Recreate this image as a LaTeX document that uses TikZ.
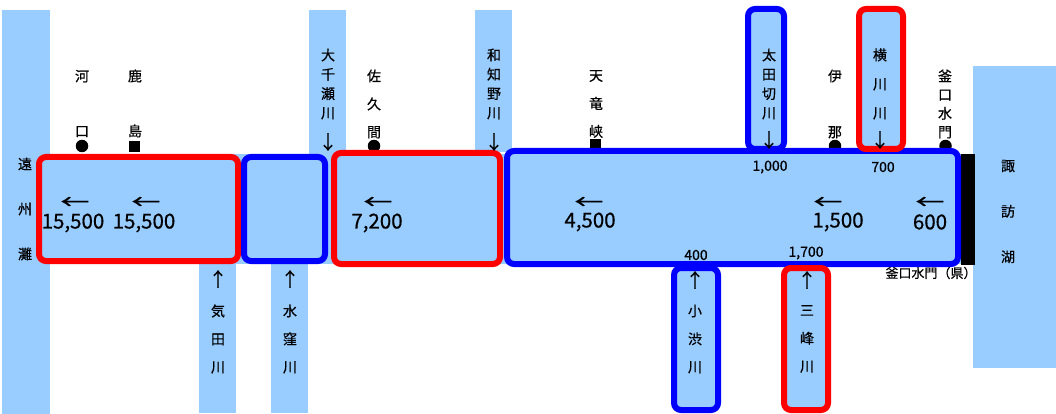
\documentclass[tikz,border=0pt]{standalone}
\usepackage{fontspec}
\setmainfont{Noto Sans CJK JP}[FakeBold=0.6]
\definecolor{lb}{RGB}{153,204,255}
\begin{document}
\begin{tikzpicture}[x=1pt,y=-1pt,
  bluebox/.style={draw=blue, line width=6pt, rounded corners=7pt, fill=lb},
  redbox/.style={draw=red, line width=6pt, rounded corners=7pt, fill=lb},
  lab/.style={inner sep=0pt, align=center, font=\fontsize{14}{#1}\selectfont},
  big/.style={inner sep=0pt, font=\fontsize{20.5}{20.5}\selectfont},
  small/.style={inner sep=0pt, font=\fontsize{14}{14}\selectfont},
  arr/.style={inner sep=0pt, font=\fontsize{20}{20}\selectfont},
  varr/.style={inner sep=0pt, font=\fontsize{19}{19}\selectfont},
  dot/.style={circle, fill=black, inner sep=0pt, minimum size=12.5pt},
  sq/.style={rectangle, fill=black, inner sep=0pt, minimum size=11pt}]
\useasboundingbox (0,0) rectangle (1056,414);

% water areas
\fill[lb] (2,10) rectangle (50,414);
\fill[lb] (973,66) rectangle (1056,368);
\fill[lb] (309,10) rectangle (346,156);
\fill[lb] (475,10) rectangle (512,152);
\fill[lb] (199,262) rectangle (236,413);
\fill[lb] (271,262) rectangle (308,413);
\fill[lb] (36,154) rectangle (961,264);
\fill[black] (961,154) rectangle (975,265);

% station markers
\node[dot] (m1) at (82,146) {};
\node[sq]  (m2) at (134.5,147) {};
\node[dot] (m3) at (374,146) {};
\node[sq]  (m4) at (595.5,145) {};
\node[dot] (m5) at (835,146) {};
\node[dot] (m6) at (945.5,146) {};

% main sections
\draw[redbox]  (39,157) rectangle (238,261);
\draw[bluebox] (244,157) rectangle (325,261);
\draw[redbox]  (334,153) rectangle (500,264);
\draw[bluebox] (507,151) rectangle (958,264);

% tributaries with frames
\draw[bluebox] (748,9) rectangle (784,149);
\draw[redbox]  (859,9) rectangle (903,149);
\draw[bluebox] (674,268) rectangle (718,410);
\draw[redbox]  (784,268) rectangle (828,410);

% labels
\node[lab=45] (enshu) at (25,209) {遠\\州\\灘};
\node[lab=45.5] (suwa) at (1008,211.5) {諏\\訪\\湖};
\node[lab=55] (kawaguchi) at (82,103.5) {河\\口};
\node[lab=55] (kashima) at (135,103.5) {鹿\\島};
\node[lab=28] (sakuma) at (374,104) {佐\\久\\間};
\node[lab=28] (tenryu) at (596,104) {天\\竜\\峡};
\node[lab=56] (ina) at (835,104) {伊\\那};
\node[lab=18.7] (kamaguchi) at (945,104) {釜\\口\\水\\門};
\node[lab=19.3] (osenze) at (328,84) {大\\千\\瀬\\川};
\node[varr] (osenzeA) at (328,142) {↓};
\node[lab=19.3] (wachino) at (494,84) {和\\知\\野\\川};
\node[varr] (wachinoA) at (494,142) {↓};
\node[lab=19.3] (otagiri) at (769,84) {太\\田\\切\\川};
\node[varr] (otagiriA) at (769,140) {↓};
\node[lab=29] (yokokawa) at (880,84) {横\\川\\川};
\node[varr] (yokokawaA) at (880,140) {↓};
\node[lab=28] (keta) at (218,339) {気\\田\\川};
\node[varr] (ketaA) at (218,279) {↑};
\node[lab=28] (misakubo) at (290,339) {水\\窪\\川};
\node[varr] (misakuboA) at (290,279) {↑};
\node[lab=28] (koshibu) at (695,339) {小\\渋\\川};
\node[varr] (koshibuA) at (695,280) {↑};
\node[lab=28] (mibu) at (807,339) {三\\峰\\川};
\node[varr] (mibuA) at (807,280) {↑};

% flows
\newcommand{\wideleft}{\scalebox{1.45}[1]{←}}
\node[arr] (a1) at (75,203) {\wideleft};
\node[big] (f1) at (73,223) {15,500};
\node[arr] (a2) at (146,203) {\wideleft};
\node[big] (f2) at (144,223) {15,500};
\node[arr] (a3) at (378,203) {\wideleft};
\node[big] (f3) at (377,223) {7,200};
\node[arr] (a4) at (589,203) {\wideleft};
\node[big] (f4) at (590,222) {4,500};
\node[arr] (a5) at (828,203) {\wideleft};
\node[big] (f5) at (838,222) {1,500};
\node[arr] (a6) at (930,203) {\wideleft};
\node[big] (f6) at (930,222) {600};
\node[small] (q1) at (770,167) {1,000};
\node[small] (q2) at (883,167) {700};
\node[small] (q3) at (696,255) {400};
\node[small] (q4) at (806,253) {1,700};
\node[inner sep=0pt, font=\fontsize{13}{13}\selectfont] (gate) at (931,273) {釜口水門（県）};
\end{tikzpicture}
\end{document}
